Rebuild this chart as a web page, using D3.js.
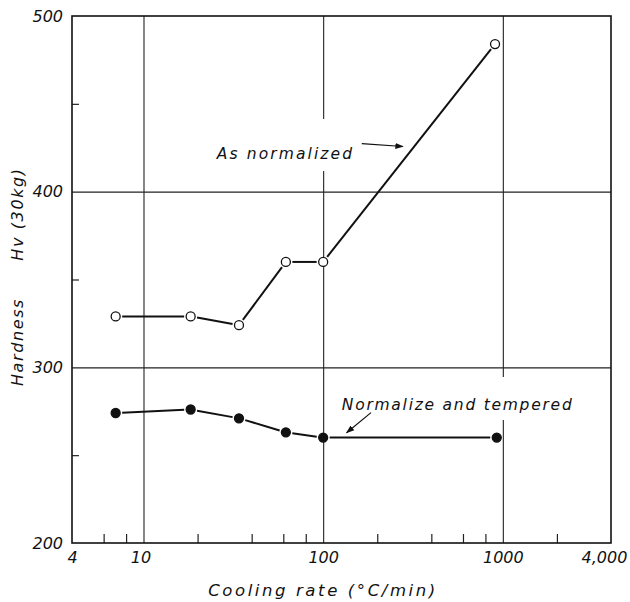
<!DOCTYPE html>
<html>
<head>
<meta charset="utf-8">
<script src="https://cdn.jsdelivr.net/npm/d3@7"></script>
<style>
  body { margin: 0; background: #fff; }
  text { font-family: "DejaVu Sans", sans-serif; font-style: italic; fill: #111; }
</style>
</head>
<body>
<div id="chart"></div>
<script>
// Dimensions of the graph
const width = 630;
const height = 602;
const margin = { top: 16, right: 19, bottom: 59, left: 72 };
const w = width - margin.left - margin.right;
const h = height - margin.top - margin.bottom;

// Data
const normRate = [7, 18.3, 34, 62, 100, 905];
const normHardness = [329, 329, 324, 360, 360, 484];
const tempRate = [7, 18.3, 34, 62, 100, 925];
const tempHardness = [274, 276, 271, 263, 260, 260];

// Axis ticks
const xLabelTicks = [4, 10, 100, 1000, 4000];
const xLabelText = ["4", "10", "100", "1000", "4,000"];
const xGrid = [10, 100, 1000];
const xMinor = [6, 8, 20, 40, 60, 80, 200, 400, 600, 800, 2000];
const yLabelTicks = [200, 300, 400, 500];
const yGrid = [300, 400];
const yMinor = [250, 350, 450];

const svg = d3
  .select("#chart")
  .append("svg")
  .attr("width", width)
  .attr("height", height)
  .append("g")
  .attr("transform", `translate(${margin.left}, ${margin.top})`);

const xScale = d3.scaleLog().domain([4, 4000]).range([0, w]);
const yScale = d3.scaleLinear().domain([200, 500]).range([h, 0]);

// Gridlines
svg
  .append("g")
  .attr("class", "grid")
  .attr("transform", `translate(0, ${h})`)
  .call(d3.axisBottom(xScale).tickValues(xGrid).tickSize(-h).tickFormat(""))
  .call((g) => g.select(".domain").remove());

svg
  .append("g")
  .attr("class", "grid")
  .call(d3.axisLeft(yScale).tickValues(yGrid).tickSize(-w).tickFormat(""))
  .call((g) => g.select(".domain").remove());

svg.selectAll(".grid line").attr("stroke", "#222").attr("stroke-width", 1.1);

// Minor ticks pointing inwards
svg
  .append("g")
  .attr("class", "minor")
  .attr("transform", `translate(0, ${h})`)
  .call(d3.axisBottom(xScale).tickValues(xMinor).tickSize(-9).tickFormat(""))
  .call((g) => g.select(".domain").remove());

svg
  .append("g")
  .attr("class", "minor")
  .call(d3.axisLeft(yScale).tickValues(yMinor).tickSize(-7).tickFormat(""))
  .call((g) => g.select(".domain").remove());

svg.selectAll(".minor line").attr("stroke", "#222").attr("stroke-width", 1.2);

// Tick labels
const xAxis = svg
  .append("g")
  .attr("transform", `translate(0, ${h})`)
  .call(
    d3
      .axisBottom(xScale)
      .tickValues(xLabelTicks)
      .tickSize(0)
      .tickPadding(9)
      .tickFormat((d, i) => xLabelText[i])
  );
xAxis.select(".domain").remove();
xAxis
  .selectAll("text")
  .style("font-size", "16px")
  .attr("dx", (d) => (d === 4000 ? -7 : d === 10 ? -3 : 0));

const yAxis = svg
  .append("g")
  .call(d3.axisLeft(yScale).tickValues(yLabelTicks).tickSize(0).tickPadding(9));
yAxis.select(".domain").remove();
yAxis.selectAll("text").style("font-size", "16px");

// Annotations (anchored in data units)
function label(text, rate, hv, size, spacing) {
  const t = svg
    .append("text")
    .attr("x", xScale(rate))
    .attr("y", yScale(hv))
    .style("font-size", size + "px")
    .style("letter-spacing", spacing + "px")
    .text(text);
  return t;
}

const bgLayer = svg.append("g");

const asNorm = label("As normalized", 25.6, 418.6, 15.5, 2.1);
const asTemp = label("Normalize and tempered", 127, 275.7, 15.5, 1.75);

// white gaps in the grid behind the labels
[
  [asNorm, 26, 8],
  [asTemp, 19, 6],
].forEach(([t, padTop, padBottom]) => {
  const b = t.node().getBBox();
  bgLayer
    .append("rect")
    .attr("x", b.x - 3)
    .attr("y", b.y - padTop)
    .attr("width", b.width + 6)
    .attr("height", b.height + padTop + padBottom)
    .attr("fill", "#fff");
});

// arrows
svg
  .append("defs")
  .append("marker")
  .attr("id", "head")
  .attr("viewBox", "0 0 10 10")
  .attr("refX", 9)
  .attr("refY", 5)
  .attr("markerWidth", 7)
  .attr("markerHeight", 7)
  .attr("orient", "auto")
  .append("path")
  .attr("d", "M0,1.5 L10,5 L0,8.5 Z")
  .attr("fill", "#111");

const arrows = [
  { from: [164, 427.4], to: [278, 425.7] },
  { from: [184.6, 274.2], to: [135, 262.8] },
];
arrows.forEach((a) => {
  svg
    .append("line")
    .attr("x1", xScale(a.from[0]))
    .attr("y1", yScale(a.from[1]))
    .attr("x2", xScale(a.to[0]))
    .attr("y2", yScale(a.to[1]))
    .attr("stroke", "#111")
    .attr("stroke-width", 1.2)
    .attr("marker-end", "url(#head)");
});

// Frame
svg
  .append("rect")
  .attr("width", w)
  .attr("height", h)
  .attr("fill", "none")
  .attr("stroke", "#111")
  .attr("stroke-width", 1.6);

// Series: line segments with small gaps at markers, then markers
const r = 4.5;
function drawSeries(rates, values, filled) {
  const pts = rates.map((d, i) => [xScale(d), yScale(values[i])]);
  for (let i = 0; i < pts.length - 1; i++) {
    const [x1, y1] = pts[i];
    const [x2, y2] = pts[i + 1];
    const len = Math.hypot(x2 - x1, y2 - y1);
    const gap = r + 2;
    const ux = (x2 - x1) / len;
    const uy = (y2 - y1) / len;
    svg
      .append("line")
      .attr("x1", x1 + ux * gap)
      .attr("y1", y1 + uy * gap)
      .attr("x2", x2 - ux * gap)
      .attr("y2", y2 - uy * gap)
      .attr("stroke", "#111")
      .attr("stroke-width", 2);
  }
  svg
    .append("g")
    .selectAll("circle")
    .data(pts)
    .join("circle")
    .attr("cx", (d) => d[0])
    .attr("cy", (d) => d[1])
    .attr("r", r)
    .attr("fill", filled ? "#111" : "#fff")
    .attr("stroke", "#111")
    .attr("stroke-width", 1.3);
}

drawSeries(normRate, normHardness, false);
drawSeries(tempRate, tempHardness, true);

// Axis titles
d3.select("svg")
  .append("text")
  .attr("x", 323)
  .attr("y", 596)
  .attr("text-anchor", "middle")
  .style("font-size", "16.5px")
  .style("letter-spacing", "2.6px")
  .text("Cooling rate (°C/min)");

d3.select("svg")
  .append("text")
  .attr("transform", "translate(23, 342) rotate(-90)")
  .attr("text-anchor", "middle")
  .style("font-size", "16px")
  .style("letter-spacing", "1.6px")
  .text("Hardness");

d3.select("svg")
  .append("text")
  .attr("transform", "translate(23, 214) rotate(-90)")
  .attr("text-anchor", "middle")
  .style("font-size", "16px")
  .style("letter-spacing", "1.6px")
  .text("Hv (30kg)");
</script>
</body>
</html>
